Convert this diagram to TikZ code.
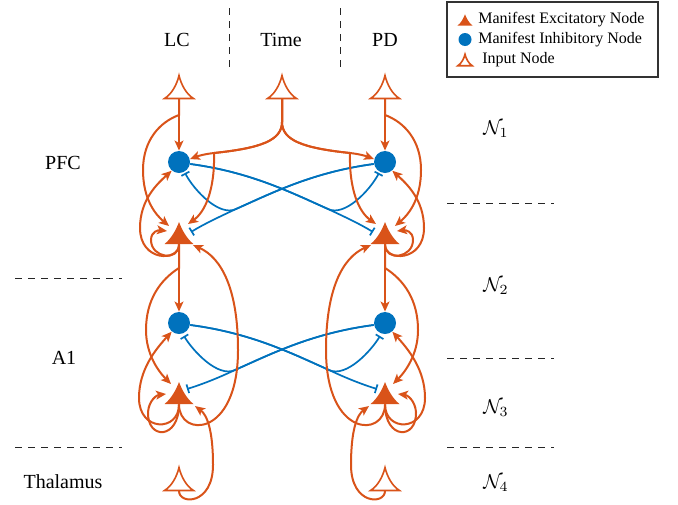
\documentclass[tikz,border=0pt]{standalone}
\usepackage{fontspec}
\setmainfont{Liberation Serif}
\usetikzlibrary{arrows.meta,calc}
\definecolor{orc}{HTML}{D95319}
\definecolor{blc}{HTML}{0072BD}
\tikzset{
  exarr/.style={draw=orc, line width=1pt, -{Stealth[length=5pt,width=4.4pt,inset=1.2pt]}},
  inharr/.style={draw=blc, line width=0.85pt, -{Bar[width=4.5pt,line width=0.85pt]}},
  inhnode/.style={circle, fill=blc, minimum size=11pt, inner sep=0pt},
  excnode/.style={circle, minimum size=11pt, inner sep=0pt},
  innode/.style={rectangle, minimum width=14.5pt, minimum height=11.5pt, inner sep=0pt},
  lbl/.style={font=\fontsize{10}{12}\selectfont, inner sep=0pt},
  leg/.style={font=\fontsize{8}{9.6}\selectfont, anchor=west, inner sep=0pt},
  sep/.style={draw=black!85, line width=0.5pt, dash pattern=on 3.5pt off 3pt},
  inglyph/.pic={\draw[orc, line width=0.8pt] (0,-11.5) .. controls (-2,-3) and (-7,7) .. (-14.5,11.5) -- (14.5,11.5) .. controls (7,7) and (2,-3) .. (0,-11.5) -- cycle;},
  exglyph/.pic={\fill[orc] (0,-11) .. controls (-3,-3) and (-8,6) .. (-14.5,11) -- (14.5,11) .. controls (8,6) and (3,-3) .. (0,-11) -- cycle;}
}
\begin{document}
\begin{tikzpicture}[x=0.5pt,y=-0.5pt]
\useasboundingbox (0,0) rectangle (678,504);

% ---- column labels and separators
\node[lbl] (tLC) at (177,40) {LC};
\node[lbl] (tTime) at (281,40) {Time};
\node[lbl] (tPD) at (385,40) {PD};
\draw[sep] (229,8) -- (229,70);
\draw[sep] (340,8) -- (340,70);

\node[lbl] (tPFC) at (63,163) {PFC};
\node[lbl] (tA1) at (64,358) {A1};
\node[lbl] (tTh) at (63,482) {Thalamus};
\draw[sep] (15,278) -- (122,278);
\draw[sep] (15,447) -- (122,447);

\node[lbl] (tN1) at (496,129) {$\mathcal{N}_1$};
\node[lbl] (tN2) at (496,286) {$\mathcal{N}_2$};
\node[lbl] (tN3) at (496,408) {$\mathcal{N}_3$};
\node[lbl] (tN4) at (496,483) {$\mathcal{N}_4$};
\draw[sep] (447,203) -- (554,203);
\draw[sep] (447,358) -- (554,358);
\draw[sep] (447,447) -- (554,447);

% ---- nodes
\node[innode] (LCin) at (179,87) {};
\node[innode] (Tin) at (282,87) {};
\node[innode] (PDin) at (385,87) {};
\node[inhnode] (I1) at (179,162) {};
\node[inhnode] (I2) at (385,162) {};
\node[excnode] (E1) at (179,233) {};
\node[excnode] (E2) at (385,233) {};
\node[inhnode] (I3) at (179,323) {};
\node[inhnode] (I4) at (385,323) {};
\node[excnode] (E3) at (179,393) {};
\node[excnode] (E4) at (385,393) {};
\node[innode] (Th1) at (179,479) {};
\node[innode] (Th2) at (385,479) {};
\foreach \n in {LCin,Tin,PDin,Th1,Th2} \pic at (\n) {inglyph};
\foreach \n in {E1,E2,E3,E4} \pic at (\n) {exglyph};

\coordinate (BL) at (214,153);
\coordinate (BR) at (350,153);

% ---- inhibitory connections
\draw[inharr] (I1.-10) .. controls (250,172) and (290,192) .. (328,209) .. controls (345,217) and (360,224) .. ($(E2)+(-12,-1)$);
\draw[inharr] (I1.-10) .. controls (250,172) and (290,192) .. (328,209) .. controls (345,217) and (370,190) .. ($(I2)+(-6,11)$);
\draw[inharr] (I2.190) .. controls (314,172) and (274,192) .. (236,209) .. controls (219,217) and (204,224) .. ($(E1)+(12,-1)$);
\draw[inharr] (I2.190) .. controls (314,172) and (274,192) .. (236,209) .. controls (219,217) and (194,190) .. ($(I1)+(6,11)$);

\draw[inharr] (I3.-10) .. controls (251,333) and (291,353) .. (329,370) .. controls (346,378) and (361,384) .. ($(E4)+(-8,-4)$);
\draw[inharr] (I3.-10) .. controls (251,333) and (291,353) .. (329,370) .. controls (346,378) and (371,351) .. ($(I4)+(-5,13)$);
\draw[inharr] (I4.190) .. controls (313,333) and (273,353) .. (235,370) .. controls (218,378) and (203,384) .. ($(E3)+(8,-4)$);
\draw[inharr] (I4.190) .. controls (313,333) and (273,353) .. (235,370) .. controls (218,378) and (193,351) .. ($(I3)+(5,13)$);

% ---- inputs (top)
\draw[exarr] (LCin.south) -- (I1.north);
\draw[exarr] (LCin.south) -- (179,115) .. controls (160,122) and (143,140) .. (143,170) .. controls (143,200) and (156,215) .. ($(E1)+(-10,-7)$);
\draw[exarr] (PDin.south) -- (I2.north);
\draw[exarr] (PDin.south) -- (385,115) .. controls (404,122) and (421,140) .. (421,170) .. controls (421,200) and (408,215) .. ($(E2)+(10,-7)$);
\draw[exarr] (Tin.south) -- (282,122) .. controls (282,140) and (262,148) .. (BL) .. controls (205,154) and (198,156) .. (I1.15);
\draw[exarr] (Tin.south) -- (282,122) .. controls (282,140) and (262,148) .. (BL) .. controls (215,190) and (205,212) .. ($(E1)+(9,-9)$);
\draw[exarr] (Tin.south) -- (282,122) .. controls (282,140) and (302,148) .. (BR) .. controls (359,154) and (366,156) .. (I2.165);
\draw[exarr] (Tin.south) -- (282,122) .. controls (282,140) and (302,148) .. (BR) .. controls (349,190) and (359,212) .. ($(E2)+(-9,-9)$);

% ---- PFC excitatory outputs
\draw[exarr] (E1.south) .. controls (179,262) and (140,262) .. (140,228) .. controls (140,200) and (157,184) .. (I1.-130);
\draw[exarr] (E1.south) .. controls (179,262) and (151,258) .. (151,240) .. controls (151,231) and (159,230) .. ($(E1)+(-12,-2)$);
\draw[exarr] (E1.south) -- (I3.north);
\draw[exarr] (E1.south) -- (179,268) .. controls (160,280) and (146,300) .. (146,330) .. controls (146,355) and (159,372) .. ($(E3)+(-8,-9)$);

\draw[exarr] (E2.south) .. controls (385,262) and (424,262) .. (424,228) .. controls (424,200) and (407,184) .. (I2.-50);
\draw[exarr] (E2.south) .. controls (385,262) and (413,258) .. (413,240) .. controls (413,231) and (405,230) .. ($(E2)+(12,-2)$);
\draw[exarr] (E2.south) -- (I4.north);
\draw[exarr] (E2.south) -- (385,268) .. controls (404,280) and (418,300) .. (418,330) .. controls (418,355) and (405,372) .. ($(E4)+(8,-9)$);

% ---- A1 excitatory outputs
\draw[exarr] (E3.south) .. controls (179,438) and (238,438) .. (238,350) .. controls (238,290) and (222,258) .. ($(E1)+(14,12)$);
\draw[exarr] (E3.south) .. controls (179,440) and (147,440) .. (148,412) .. controls (149,400) and (157,395) .. ($(E3)+(-13,1)$);
\draw[exarr] (E3.south) .. controls (179,432) and (139,432) .. (139,398) .. controls (139,370) and (155,350) .. (I3.-130);

\draw[exarr] (E4.south) .. controls (385,438) and (326,438) .. (326,350) .. controls (326,290) and (342,258) .. ($(E2)+(-14,12)$);
\draw[exarr] (E4.south) .. controls (385,440) and (417,440) .. (416,412) .. controls (415,400) and (407,395) .. ($(E4)+(13,1)$);
\draw[exarr] (E4.south) .. controls (385,432) and (425,432) .. (425,398) .. controls (425,370) and (409,350) .. (I4.-50);

% ---- thalamic inputs
\draw[exarr] (Th1.south) .. controls (179,505) and (213,505) .. (213,465) .. controls (213,430) and (207,415) .. ($(E3)+(16,13)$);
\draw[exarr] (Th2.south) .. controls (385,505) and (351,505) .. (351,465) .. controls (351,430) and (357,415) .. ($(E4)+(-16,13)$);

% ---- legend
\node[draw=black!80, line width=0.6pt, minimum width=105.5pt, minimum height=37.5pt, inner sep=0pt] (legbox) at (552.5,39.5) {};
\coordinate (lg1) at (465,20);
\node[inner sep=0pt, minimum size=6.5pt, circle, fill=blc] (lg2) at (465,39.5) {};
\coordinate (lg3) at (465,60);
\pic[scale=0.52] at (lg1) {exglyph};
\pic[scale=0.5] at (lg3) {inglyph};
\node[leg] (lt1) at (478,20) {Manifest Excitatory Node};
\node[leg] (lt2) at (478,39.5) {Manifest Inhibitory Node};
\node[leg] (lt3) at (482,59.5) {Input Node};
\end{tikzpicture}
\end{document}
